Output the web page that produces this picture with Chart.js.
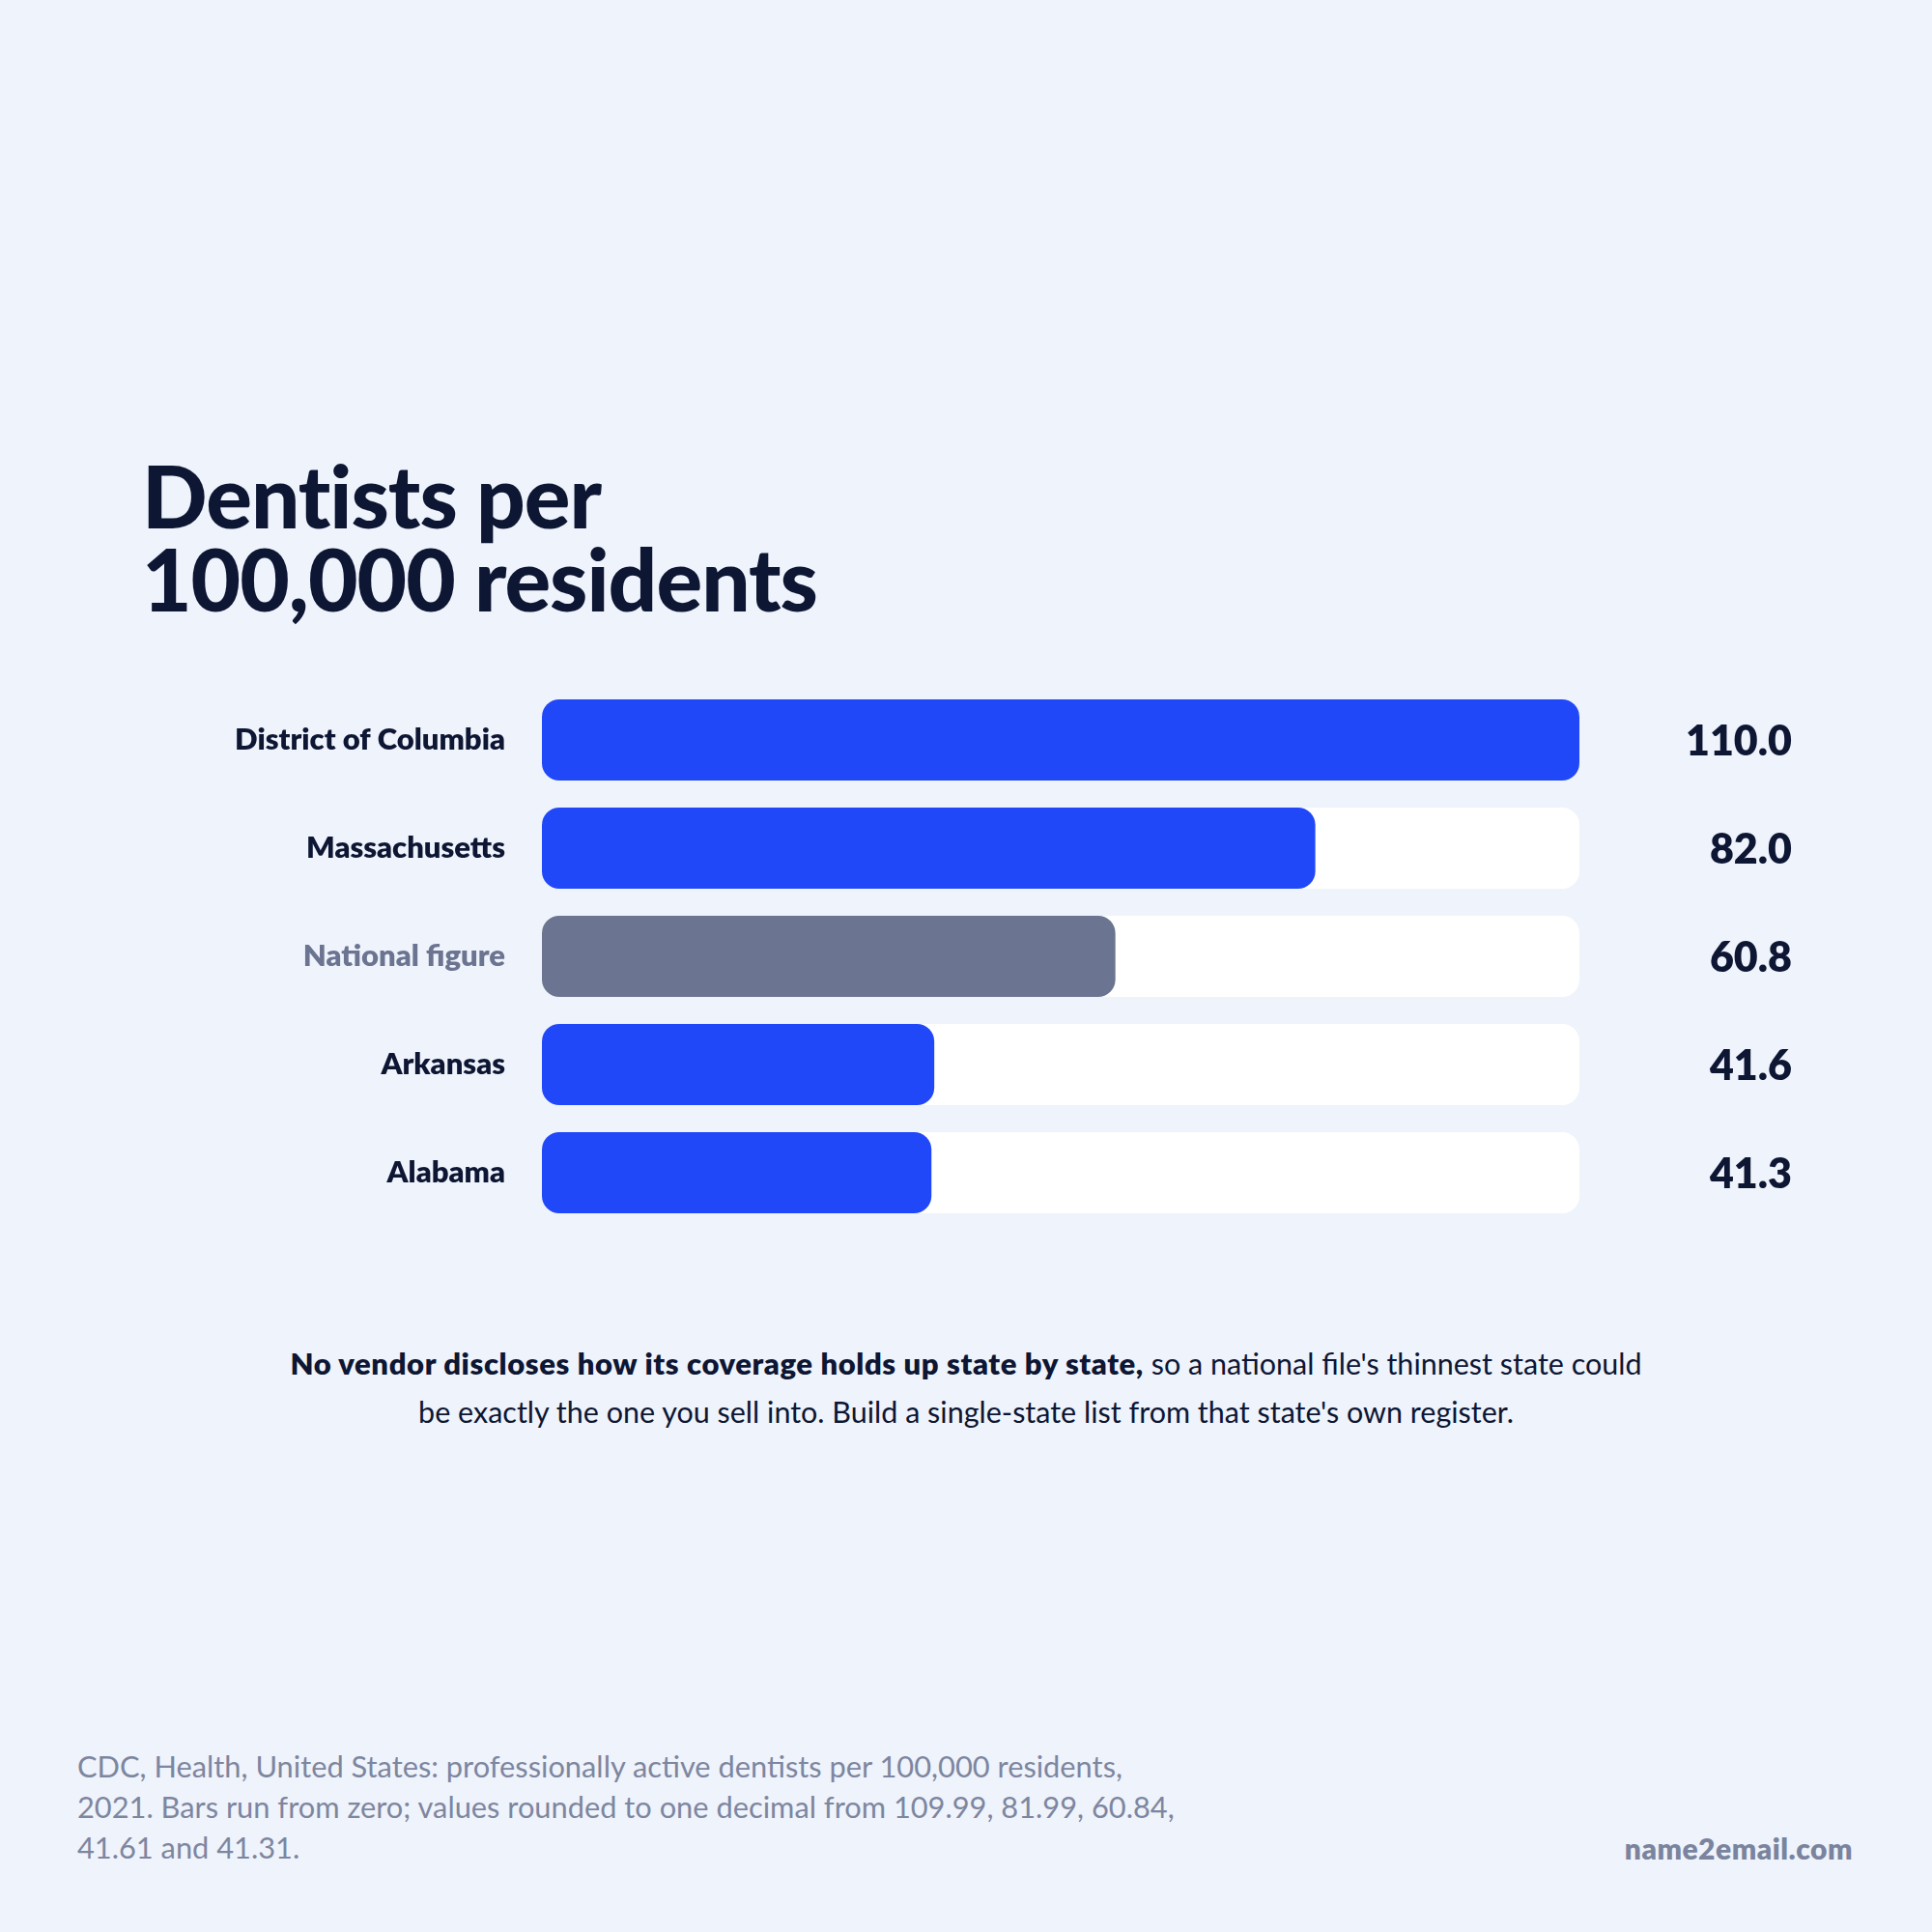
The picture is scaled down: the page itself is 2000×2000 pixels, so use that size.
<!DOCTYPE html>
<html>
<head>
<meta charset="utf-8">
<script src="https://cdn.jsdelivr.net/npm/chart.js@4"></script>
<style>
  html, body { margin: 0; padding: 0; }
  body { width: 2000px; height: 2000px; background: #EFF3FB; position: relative; overflow: hidden; font-family: Lato, sans-serif; }
  .title { position: absolute; left: 147px; top: 470px; font-family: Lato, sans-serif; font-weight: 900; font-size: 89px; line-height: 86px; color: #0D1633; letter-spacing: -1px; }
  .note { position: absolute; left: 0; width: 2000px; top: 1386px; text-align: center; font-size: 30.5px; line-height: 50px; color: #0D1633; }
  .note b { font-weight: 800; font-size: 31px; letter-spacing: 0.6px; }
  .source { position: absolute; left: 80px; top: 1808px; font-size: 30.8px; line-height: 42px; color: #7D86A0; }
  .brand { position: absolute; right: 82px; top: 1892px; font-size: 30px; line-height: 42px; font-weight: 800; letter-spacing: 0.5px; color: #7A849E; }
  #chart { position: absolute; left: 0; top: 710px; }
</style>
</head>
<body>
<div class="title">Dentists per<br>100,000 residents</div>
<canvas id="chart" width="2000" height="560"></canvas>
<div class="note"><b>No vendor discloses how its coverage holds up state by state,</b> so a national file's thinnest state could<br>be exactly the one you sell into. Build a single-state list from that state's own register.</div>
<div class="source">CDC, Health, United States: professionally active dentists per 100,000 residents,<br>2021. Bars run from zero; values rounded to one decimal from 109.99, 81.99, 60.84,<br>41.61 and 41.31.</div>
<div class="brand">name2email.com</div>
<script>
// 数据
const categories = ['District of Columbia', 'Massachusetts', 'National figure', 'Arkansas', 'Alabama'];
const dentistsPer100k = [110.0, 82.0, 60.8, 41.6, 41.3];
const valueLabels = ['110.0', '82.0', '60.8', '41.6', '41.3'];
const axisMax = 110;
const nationalIndex = 2;

const BLUE = '#2148F8';
const GREY = '#6B7490';
const INK = '#0D1633';

// 数值标签
const valueLabelPlugin = {
    id: 'valueLabels',
    afterDatasetsDraw(chart) {
        const ctx = chart.ctx;
        const meta = chart.getDatasetMeta(1);
        ctx.save();
        ctx.font = '800 43px Lato, sans-serif';
        ctx.fillStyle = INK;
        ctx.textAlign = 'right';
        ctx.textBaseline = 'middle';
        meta.data.forEach((bar, i) => {
            ctx.fillText(valueLabels[i], 1855, bar.y + 2);
        });
        ctx.restore();
    }
};

new Chart(document.getElementById('chart').getContext('2d'), {
    type: 'bar',
    data: {
        labels: categories,
        datasets: [
            {
                data: categories.map(() => axisMax),
                backgroundColor: '#FFFFFF',
                borderRadius: 18,
                borderSkipped: false,
                grouped: false,
                order: 2,
                barPercentage: 0.75,
                categoryPercentage: 1
            },
            {
                data: dentistsPer100k,
                backgroundColor: categories.map((c, i) => i === nationalIndex ? GREY : BLUE),
                borderRadius: 18,
                borderSkipped: false,
                grouped: false,
                order: 1,
                barPercentage: 0.75,
                categoryPercentage: 1
            }
        ]
    },
    options: {
        indexAxis: 'y',
        responsive: false,
        animation: false,
        layout: { padding: { left: 0, right: 365, top: 0, bottom: 0 } },
        plugins: { legend: { display: false }, tooltip: { enabled: false } },
        scales: {
            x: { display: false, min: 0, max: axisMax },
            y: {
                grid: { display: false, drawTicks: false },
                border: { display: false },
                ticks: {
                    padding: 38,
                    font: { family: 'Lato, sans-serif', weight: '800', size: 31 },
                    color: (c) => c.index === nationalIndex ? GREY : INK
                },
                afterFit(scale) {
                    scale.width = 561;
                    scale.paddingTop = 0;
                    scale.paddingBottom = 0;
                }
            }
        }
    },
    plugins: [valueLabelPlugin]
});
</script>
</body>
</html>
